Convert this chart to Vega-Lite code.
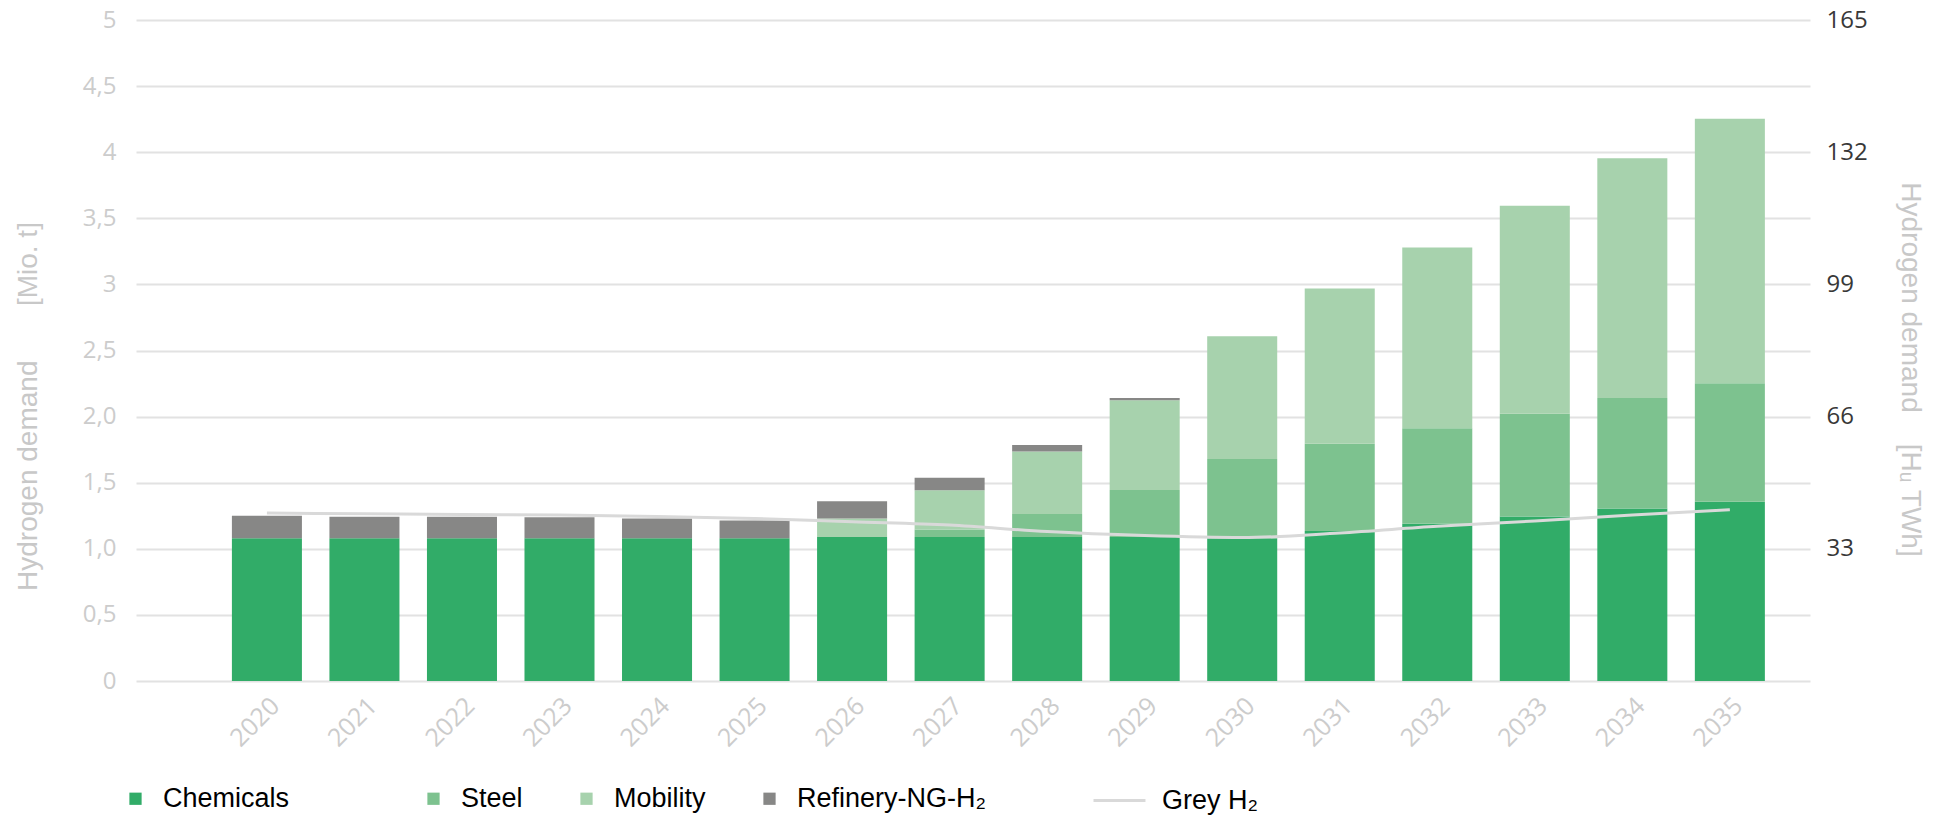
{
  "$schema": "https://vega.github.io/schema/vega-lite/v6.json",
  "width": 1674,
  "height": 661,
  "autosize": {"type": "none"},
  "padding": {"left": 136, "top": 20, "right": 132, "bottom": 137},
  "background": "white",
  "config": {"view": {"stroke": null}},
  "datasets": {
    "bars": [
      {"year": "2020", "sector": "Chemicals", "rank": 1, "value": 1.08},
      {"year": "2021", "sector": "Chemicals", "rank": 1, "value": 1.08},
      {"year": "2022", "sector": "Chemicals", "rank": 1, "value": 1.08},
      {"year": "2023", "sector": "Chemicals", "rank": 1, "value": 1.08},
      {"year": "2024", "sector": "Chemicals", "rank": 1, "value": 1.08},
      {"year": "2025", "sector": "Chemicals", "rank": 1, "value": 1.08},
      {"year": "2026", "sector": "Chemicals", "rank": 1, "value": 1.09},
      {"year": "2027", "sector": "Chemicals", "rank": 1, "value": 1.09},
      {"year": "2028", "sector": "Chemicals", "rank": 1, "value": 1.09},
      {"year": "2029", "sector": "Chemicals", "rank": 1, "value": 1.09},
      {"year": "2030", "sector": "Chemicals", "rank": 1, "value": 1.08},
      {"year": "2031", "sector": "Chemicals", "rank": 1, "value": 1.135},
      {"year": "2032", "sector": "Chemicals", "rank": 1, "value": 1.19},
      {"year": "2033", "sector": "Chemicals", "rank": 1, "value": 1.245},
      {"year": "2034", "sector": "Chemicals", "rank": 1, "value": 1.305},
      {"year": "2035", "sector": "Chemicals", "rank": 1, "value": 1.355},
      {"year": "2027", "sector": "Steel", "rank": 2, "value": 0.056},
      {"year": "2028", "sector": "Steel", "rank": 2, "value": 0.174},
      {"year": "2029", "sector": "Steel", "rank": 2, "value": 0.355},
      {"year": "2030", "sector": "Steel", "rank": 2, "value": 0.6},
      {"year": "2031", "sector": "Steel", "rank": 2, "value": 0.66},
      {"year": "2032", "sector": "Steel", "rank": 2, "value": 0.722},
      {"year": "2033", "sector": "Steel", "rank": 2, "value": 0.777},
      {"year": "2034", "sector": "Steel", "rank": 2, "value": 0.835},
      {"year": "2035", "sector": "Steel", "rank": 2, "value": 0.898},
      {"year": "2026", "sector": "Mobility", "rank": 3, "value": 0.14},
      {"year": "2027", "sector": "Mobility", "rank": 3, "value": 0.296},
      {"year": "2028", "sector": "Mobility", "rank": 3, "value": 0.472},
      {"year": "2029", "sector": "Mobility", "rank": 3, "value": 0.678},
      {"year": "2030", "sector": "Mobility", "rank": 3, "value": 0.927},
      {"year": "2031", "sector": "Mobility", "rank": 3, "value": 1.174},
      {"year": "2032", "sector": "Mobility", "rank": 3, "value": 1.368},
      {"year": "2033", "sector": "Mobility", "rank": 3, "value": 1.572},
      {"year": "2034", "sector": "Mobility", "rank": 3, "value": 1.814},
      {"year": "2035", "sector": "Mobility", "rank": 3, "value": 2.0},
      {"year": "2020", "sector": "Refinery-NG-H\u2082", "rank": 4, "value": 0.17},
      {"year": "2021", "sector": "Refinery-NG-H\u2082", "rank": 4, "value": 0.163},
      {"year": "2022", "sector": "Refinery-NG-H\u2082", "rank": 4, "value": 0.163},
      {"year": "2023", "sector": "Refinery-NG-H\u2082", "rank": 4, "value": 0.158},
      {"year": "2024", "sector": "Refinery-NG-H\u2082", "rank": 4, "value": 0.15},
      {"year": "2025", "sector": "Refinery-NG-H\u2082", "rank": 4, "value": 0.135},
      {"year": "2026", "sector": "Refinery-NG-H\u2082", "rank": 4, "value": 0.13},
      {"year": "2027", "sector": "Refinery-NG-H\u2082", "rank": 4, "value": 0.096},
      {"year": "2028", "sector": "Refinery-NG-H\u2082", "rank": 4, "value": 0.05},
      {"year": "2029", "sector": "Refinery-NG-H\u2082", "rank": 4, "value": 0.018}
    ],
    "grey": [
      {"year": "2020", "series": "Grey H\u2082", "grey": 1.27},
      {"year": "2021", "series": "Grey H\u2082", "grey": 1.265},
      {"year": "2022", "series": "Grey H\u2082", "grey": 1.26},
      {"year": "2023", "series": "Grey H\u2082", "grey": 1.255},
      {"year": "2024", "series": "Grey H\u2082", "grey": 1.245},
      {"year": "2025", "series": "Grey H\u2082", "grey": 1.23},
      {"year": "2026", "series": "Grey H\u2082", "grey": 1.205},
      {"year": "2027", "series": "Grey H\u2082", "grey": 1.18},
      {"year": "2028", "series": "Grey H\u2082", "grey": 1.13},
      {"year": "2029", "series": "Grey H\u2082", "grey": 1.1},
      {"year": "2030", "series": "Grey H\u2082", "grey": 1.085},
      {"year": "2031", "series": "Grey H\u2082", "grey": 1.12},
      {"year": "2032", "series": "Grey H\u2082", "grey": 1.17},
      {"year": "2033", "series": "Grey H\u2082", "grey": 1.21},
      {"year": "2034", "series": "Grey H\u2082", "grey": 1.255},
      {"year": "2035", "series": "Grey H\u2082", "grey": 1.295}
    ]
  },
  "layer": [
    {
      "data": {"name": "bars"},
      "mark": {"type": "bar"},
      "encoding": {
        "x": {
          "field": "year",
          "type": "ordinal",
          "scale": {"paddingInner": 0.282, "paddingOuter": 0.723, "align": 0.68},
          "axis": {
            "title": null,
            "labelAngle": -45,
            "labelColor": "#cccccc",
            "labelFont": "Open Sans",
            "labelFontSize": 25,
            "labelPadding": 12,
            "ticks": false,
            "domain": false,
            "grid": false
          }
        },
        "y": {
          "field": "value",
          "type": "quantitative",
          "stack": "zero",
          "scale": {"domain": [0, 5], "nice": false},
          "axis": {
            "orient": "left",
            "values": [0, 0.5, 1, 1.5, 2, 2.5, 3, 3.5, 4, 4.5, 5],
            "labelExpr": "datum.value == 0 ? '0' : ((datum.value % 1 == 0 && datum.value >= 3) ? format(datum.value, 'd') : replace(format(datum.value, '.1f'), '.', ','))",
            "grid": true,
            "gridColor": "#e2e2e2",
            "gridWidth": 2,
            "domain": false,
            "ticks": false,
            "labelColor": "#cccccc",
            "labelFont": "Open Sans",
            "labelFontSize": 24,
            "labelPadding": 20,
            "title": "Hydrogen demand\u00a0\u00a0\u00a0\u00a0\u00a0\u00a0\u00a0[Mio. t]",
            "titleColor": "#c8c8c8",
            "titleFont": "Liberation Sans",
            "titleFontSize": 28,
            "titleFontWeight": "normal",
            "titleAngle": -90,
            "titleAlign": "center",
            "titleBaseline": "middle",
            "titleX": -108,
            "titleY": 386
          }
        },
        "color": {
          "field": "sector",
          "type": "nominal",
          "scale": {
            "domain": ["Chemicals", "Steel", "Mobility", "Refinery-NG-H\u2082"],
            "range": ["#31ac68", "#7dc28f", "#a7d2ad", "#878786"]
          },
          "legend": {
            "title": null,
            "orient": "none",
            "direction": "horizontal",
            "legendX": -14,
            "legendY": 765,
            "padding": 0,
            "symbolType": "square",
            "symbolSize": 150,
            "symbolStrokeWidth": 0,
            "labelFont": "Liberation Sans",
            "labelFontSize": 27,
            "labelColor": "#000000",
            "labelOffset": 14,
            "labelLimit": 400,
            "columnPadding": 50,
            "labelExpr": "datum.label == 'Chemicals' ? datum.label + '\u2800\u2800\u2800\u2800' : datum.label"
          }
        },
        "order": {"field": "rank", "type": "quantitative"}
      }
    },
    {
      "data": {"name": "grey"},
      "mark": {"type": "line", "interpolate": "monotone", "strokeWidth": 3},
      "encoding": {
        "x": {"field": "year", "type": "ordinal"},
        "y": {
          "field": "grey",
          "type": "quantitative",
          "scale": {"domain": [0, 5], "nice": false},
          "axis": {
            "orient": "right",
            "values": [1, 2, 3, 4, 5],
            "labelExpr": "format(datum.value * 33, 'd')",
            "grid": false,
            "domain": false,
            "ticks": false,
            "labelColor": "#383838",
            "labelFont": "Open Sans",
            "labelFontSize": 24,
            "labelPadding": 16,
            "title": "Hydrogen demand\u00a0\u00a0\u00a0\u00a0[H\u1d64 TWh]",
            "titleColor": "#c8c8c8",
            "titleFont": "Liberation Sans",
            "titleFontSize": 28,
            "titleFontWeight": "normal",
            "titleAngle": 90,
            "titleAlign": "center",
            "titleBaseline": "middle",
            "titleX": 99,
            "titleY": 349
          }
        },
        "stroke": {
          "field": "series",
          "type": "nominal",
          "scale": {"range": ["#d9d9d9"]},
          "legend": {
            "title": null,
            "orient": "none",
            "direction": "horizontal",
            "legendX": 956,
            "legendY": 753,
            "padding": 0,
            "symbolType": "stroke",
            "symbolSize": 2700,
            "symbolStrokeWidth": 3,
            "labelFont": "Liberation Sans",
            "labelFontSize": 27,
            "labelColor": "#000000",
            "labelOffset": 15,
            "labelLimit": 400
          }
        }
      }
    }
  ],
  "resolve": {"axis": {"y": "independent"}}
}
